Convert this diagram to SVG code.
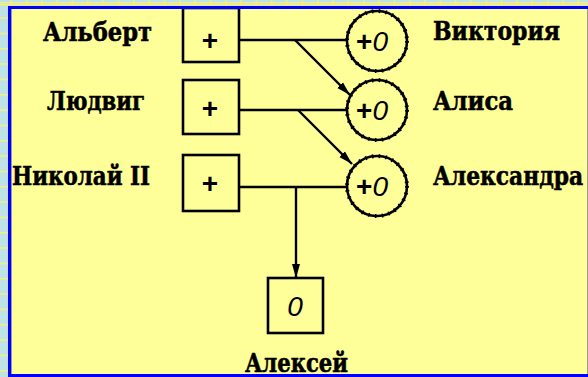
<svg xmlns="http://www.w3.org/2000/svg" width="588" height="377" viewBox="0 0 588 377">
  <defs>
    <pattern id="grid" width="15.33" height="15.33" patternUnits="userSpaceOnUse" x="10.3" y="2">
      <rect width="15.33" height="15.33" fill="#bfe2e6"/>
      <path d="M0 0.75H15.33M0.75 0V15.33" stroke="#f6f07a" stroke-width="1.5"/>
    </pattern>
    <marker id="arrow" markerUnits="userSpaceOnUse" markerWidth="15" markerHeight="10" refX="14" refY="5" orient="auto">
      <path d="M0,1 L14,5 L0,9 Z" fill="#000"/>
    </marker>
  </defs>
  <style>
    .box { fill: none; stroke: #000; stroke-width: 2.6; }
    .ring { fill: none; stroke: #000; stroke-width: 2.6; }
    .notch { fill: none; stroke: #000; stroke-width: 4; stroke-dasharray: 1.6 5.2; }
    .wire { fill: none; stroke: #000; stroke-width: 2.4; }
    .name { font-family: "DejaVu Serif", "Liberation Serif", serif; font-weight: bold; font-size: 26px; fill: #000; stroke: #000; stroke-width: 0.6; }
    .sym { font-family: "Liberation Sans", Arial, sans-serif; font-weight: bold; font-size: 28px; fill: #000; }
    .zero { font-style: italic; font-weight: normal; }
  </style>

  <!-- page background: grid frame with yellow sheet -->
  <rect width="588" height="377" fill="url(#grid)"/>
  <rect x="0" y="4" width="588" height="1.5" fill="#f6f07a"/>
  <rect x="11" y="9" width="577" height="365" fill="#ffff99"/>

  <!-- connectors -->
  <g id="connectors">
    <path class="wire" d="M239 40H347"/>
    <path class="wire" d="M239 110H347"/>
    <path class="wire" d="M239 187H347"/>
    <path class="wire" d="M295 40L350 95" marker-end="url(#arrow)"/>
    <path class="wire" d="M298 110L352 164" marker-end="url(#arrow)"/>
    <path class="wire" d="M296 187V278" marker-end="url(#arrow)"/>
  </g>

  <!-- parents (inputs) -->
  <g id="albert">
    <rect class="box" x="183" y="8" width="56" height="54"/>
    <text class="sym" x="210" y="50" text-anchor="middle">+</text>
    <text class="name" x="43" y="41" textLength="109" lengthAdjust="spacingAndGlyphs">Альберт</text>
  </g>
  <g id="ludwig">
    <rect class="box" x="183" y="80" width="56" height="54"/>
    <text class="sym" x="210" y="118" text-anchor="middle">+</text>
    <text class="name" x="47" y="110" textLength="98" lengthAdjust="spacingAndGlyphs">Людвиг</text>
  </g>
  <g id="nicholas">
    <rect class="box" x="183" y="155" width="56" height="56"/>
    <text class="sym" x="210" y="193" text-anchor="middle">+</text>
    <text class="name" x="12" y="185" textLength="138" lengthAdjust="spacingAndGlyphs">Николай II</text>
  </g>

  <!-- children (carriers) -->
  <g id="victoria">
    <circle class="ring" cx="377" cy="41" r="30"/>
    <circle class="notch" cx="377" cy="41" r="30"/>
    <text class="sym" x="372" y="51" text-anchor="middle">+<tspan class="zero">0</tspan></text>
    <text class="name" x="433" y="40" textLength="127" lengthAdjust="spacingAndGlyphs">Виктория</text>
  </g>
  <g id="alice">
    <circle class="ring" cx="377" cy="110" r="30"/>
    <circle class="notch" cx="377" cy="110" r="30"/>
    <text class="sym" x="372" y="120" text-anchor="middle">+<tspan class="zero">0</tspan></text>
    <text class="name" x="433" y="110" textLength="80" lengthAdjust="spacingAndGlyphs">Алиса</text>
  </g>
  <g id="alexandra">
    <circle class="ring" cx="377" cy="186" r="30"/>
    <circle class="notch" cx="377" cy="186" r="30"/>
    <text class="sym" x="372" y="196" text-anchor="middle">+<tspan class="zero">0</tspan></text>
    <text class="name" transform="translate(433 185) scale(0.84 1)" x="0" y="0">Александра</text>
  </g>

  <!-- son -->
  <g id="alexei">
    <rect class="box" x="268" y="278" width="55" height="55"/>
    <text class="sym zero" x="295" y="316" text-anchor="middle">0</text>
    <text class="name" x="245" y="372" textLength="103" lengthAdjust="spacingAndGlyphs">Алексей</text>
  </g>

  <!-- sheet border -->
  <path d="M9.5 377V7.5H588" fill="none" stroke="#0000ff" stroke-width="3"/>
  <rect x="9" y="374" width="579" height="3" fill="#0000ff"/>
  <path d="M11.5 9V374" stroke="#9a9a9a" stroke-width="1"/>
  <path d="M587.5 9V374" stroke="#9a9a9a" stroke-width="1"/>
</svg>
